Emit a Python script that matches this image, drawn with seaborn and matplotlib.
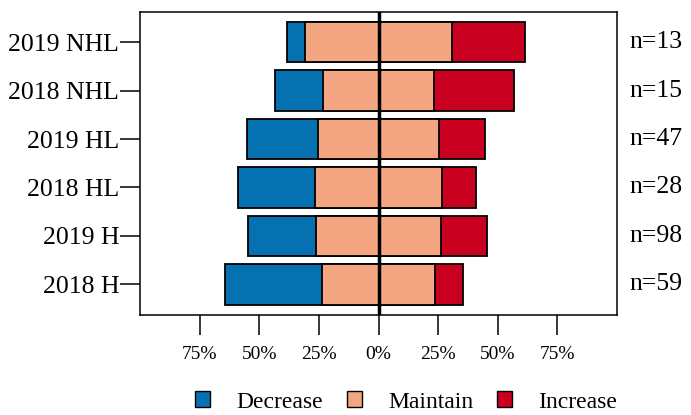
import numpy as np
import pandas as pd
import matplotlib
matplotlib.use("Agg")
import matplotlib.pyplot as plt
import matplotlib.patches as mpatches
import matplotlib.transforms as mtransforms
import seaborn as sns

# response counts per group (they match n exactly)
groups = ["2019 NHL", "2018 NHL", "2019 HL", "2018 HL", "2019 H", "2018 H"]
decrease = [1, 3, 14, 9, 28, 24]
maintain = [8, 7, 24, 15, 51, 28]
increase = [4, 5, 9, 4, 19, 7]
n_labels = ["n=13", "n=15", "n=47", "n=28", "n=98", "n=59"]

levels = ["Decrease", "Maintain", "Increase"]
colors = {"Decrease": "#0571b0", "Maintain": "#f4a582", "Increase": "#ca0020"}

df = pd.DataFrame({"group": groups, "dec": decrease, "mai": maintain, "inc": increase})
df["n"] = df["dec"] + df["mai"] + df["inc"]
df["dec_p"] = 100 * df["dec"] / df["n"]
df["mai_p"] = 100 * df["mai"] / df["n"]
df["inc_p"] = 100 * df["inc"] / df["n"]

# diverging: half of "maintain" on each side of zero
df["left_outer"] = -(df["dec_p"] + df["mai_p"] / 2)
df["left_inner"] = -df["mai_p"] / 2
df["right_outer"] = df["inc_p"] + df["mai_p"] / 2
df["right_inner"] = df["mai_p"] / 2

sns.set_style("white")
plt.rcParams["font.family"] = ["Liberation Serif", "DejaVu Serif"]
plt.rcParams.update({"text.color": "black", "axes.labelcolor": "black",
                     "xtick.color": "black", "ytick.color": "black"})

fig = plt.figure(figsize=(6.91, 4.15), dpi=100)
ax = fig.add_subplot(111)
fig.subplots_adjust(left=140 / 691, right=617 / 691, top=1 - 12 / 415, bottom=1 - 315 / 415)

bar_kw = dict(y="group", orient="h", width=0.84, edgecolor="black", linewidth=1.3,
              ax=ax, order=groups, saturation=1)
sns.barplot(data=df, x="left_outer", color=colors["Decrease"], **bar_kw)
sns.barplot(data=df, x="left_inner", color=colors["Maintain"], **bar_kw)
sns.barplot(data=df, x="right_outer", color=colors["Increase"], **bar_kw)
sns.barplot(data=df, x="right_inner", color=colors["Maintain"], **bar_kw)

ax.axvline(0, color="black", lw=2.5, zorder=5)

ax.set_xlim(-100, 100)
ax.set_ylim(5.63, -0.62)
xt = [-75, -50, -25, 0, 25, 50, 75]
ax.set_xticks(xt)
ax.set_xticklabels(["%d%%" % abs(v) for v in xt], fontsize=14)
ax.set_yticks(range(len(groups)))
ax.set_yticklabels(groups, fontsize=18.5)
ax.set_xlabel("")
ax.set_ylabel("")
ax.tick_params(axis="x", direction="out", length=14.5, width=1.1, pad=8, color="black", bottom=True)
ax.tick_params(axis="y", direction="out", length=14.5, width=1.1, pad=0.5, color="black", left=True)
for s in ax.spines.values():
    s.set_color("black")
    s.set_linewidth(1.1)

# n labels on the right
trans = mtransforms.blended_transform_factory(ax.transAxes, ax.transData)
for i, lab in enumerate(n_labels):
    ax.text(1.025, i, lab, transform=trans, ha="left", va="center", fontsize=18.5, color="black")

handles = [mpatches.Patch(facecolor=colors[l], edgecolor="black", linewidth=1.0, label=l) for l in levels]
fig.legend(handles=handles, loc="center", bbox_to_anchor=(406 / 691, 1 - 402 / 415), ncol=3,
           frameon=False, fontsize=17, handlelength=0.65, handleheight=0.65,
           handletextpad=1.1, columnspacing=1.0, borderpad=0, labelcolor="black")

fig.savefig("out.png", dpi=100)
